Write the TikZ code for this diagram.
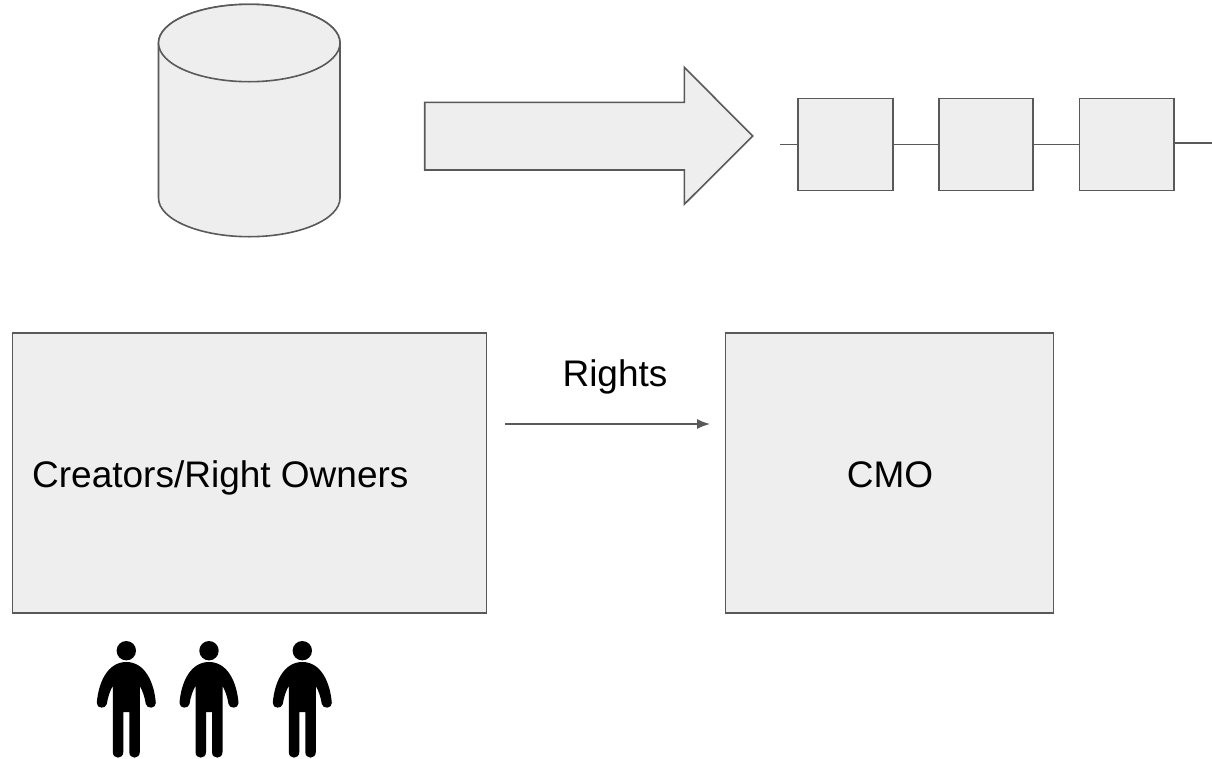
\documentclass[tikz,border=0pt]{standalone}
\usepackage{fontspec}
\usetikzlibrary{arrows.meta}
\setmainfont{Liberation Sans}
\definecolor{boxfill}{HTML}{EEEEEE}
\definecolor{boxline}{HTML}{595959}
\tikzset{
  shapebox/.style={draw=boxline,fill=boxfill,line width=1.6pt,line join=miter},
  chainbox/.style={shapebox,minimum width=94.5pt,minimum height=92pt,inner sep=0pt},
  wire/.style={draw=boxline,line width=1.6pt},
  label/.style={inner sep=0pt,font=\fontsize{37}{44}\selectfont,text=black},
  person/.pic={
    \fill[black] (0,650.7) circle (9.7);
    \fill[black] (-13.5,712) -- (-13.5,686)
      .. controls (-16,690) and (-18.5,697) .. (-19.5,704)
      .. controls (-20.5,709) and (-29.5,709) .. (-29.5,703)
      .. controls (-28,683) and (-19,662) .. (0,662)
      .. controls (19,662) and (28,683) .. (29.5,703)
      .. controls (29.5,709) and (20.5,709) .. (19.5,704)
      .. controls (18.5,697) and (16,690) .. (13.5,686)
      -- (13.5,752)
      .. controls (13.5,759.5) and (3,759.5) .. (3,752)
      -- (3,712) -- (-3,712) -- (-3,752)
      .. controls (-3,759.5) and (-13.5,759.5) .. (-13.5,752) -- cycle;
  }
}
\begin{document}
\begin{tikzpicture}[x=1pt,y=-1pt]
\useasboundingbox (0,0) rectangle (1212,758);
% cylinder
\path[shapebox] (158.5,43) -- (158.5,198) arc[start angle=180,end angle=360,x radius=90.75,y radius=-38.7] -- (340,43) arc[start angle=0,end angle=180,x radius=90.75,y radius=-38.7] -- cycle;
\draw[shapebox] (249.25,43) ellipse[x radius=90.75,y radius=38.7];
% block arrow
\path[shapebox] (424.7,102.3) -- (684.3,102.3) -- (684.3,67.3) -- (752.7,136) -- (684.3,204.3) -- (684.3,170) -- (424.7,170) -- cycle;
% chain
\coordinate (c0) at (780,144.3);
\coordinate (c1) at (1212,143);
\node[chainbox] (b1) at (845.5,144.3) {};
\node[chainbox] (b2) at (986,144.3) {};
\node[chainbox] (b3) at (1126.7,144.3) {};
\draw[wire] (c0) -- (b1.west);
\draw[wire] (b1.east) -- (b2.west);
\draw[wire] (b2.east) -- (b3.west);
\draw[wire] (b3.east |- c1) -- (c1);
% boxes
\node[shapebox,minimum width=474pt,minimum height=280pt,inner sep=0pt] (cr) at (249.5,473) {};
\node[label,anchor=base west] (crt) at (32,487) {Creators/Right Owners};
\node[shapebox,minimum width=328pt,minimum height=280pt,inner sep=0pt] (cmo) at (889.5,473) {};
\node[label,anchor=base] (cmot) at (890,487) {CMO};
\coordinate (a0) at (505,424);
\coordinate (a1) at (710,424);
\draw[wire,line width=1.4pt,-{Latex[length=13pt,width=10pt]}] (a0) -- (a1);
\node[label,anchor=base] (rt) at (615,386.5) {Rights};
% people
\pic at (126.3,0) {person};
\pic at (209,0) {person};
\pic at (302.3,0) {person};
\end{tikzpicture}
\end{document}
